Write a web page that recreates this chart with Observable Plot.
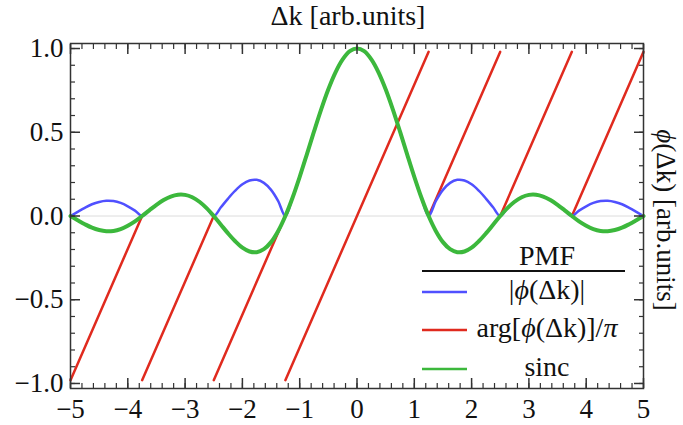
<!DOCTYPE html>
<html><head><meta charset="utf-8">
<script src="https://cdn.jsdelivr.net/npm/d3@7"></script>
<script src="https://cdn.jsdelivr.net/npm/@observablehq/plot@0.6"></script>
<style>body{margin:0;background:#fff} svg text{font-family:"Liberation Serif","Times New Roman",serif;}</style>
</head><body><div id="chart"></div>
<script>
// Δk sample positions
const sampleX = [-5,-4.875,-4.75,-4.625,-4.5,-4.375,-4.25,-4.125,
  -4,-3.875,-3.75,-3.625,-3.5,-3.375,-3.25,-3.125,
  -3,-2.875,-2.75,-2.625,-2.5,-2.375,-2.25,-2.125,
  -2,-1.875,-1.75,-1.625,-1.5,-1.375,-1.25,-1.125,
  -1,-0.875,-0.75,-0.625,-0.5,-0.375,-0.25,-0.125,
  0,0.125,0.25,0.375,0.5,0.625,0.75,0.875,
  1,1.125,1.25,1.375,1.5,1.625,1.75,1.875,
  2,2.125,2.25,2.375,2.5,2.625,2.75,2.875,
  3,3.125,3.25,3.375,3.5,3.625,3.75,3.875,
  4,4.125,4.25,4.375,4.5,4.625,4.75,4.875,5];
// sinc series
const sincY = [0,-0.025,-0.049,-0.070,-0.084,-0.091,-0.089,-0.078,-0.058,-0.032,
  0,0.034,0.067,0.095,0.116,0.127,0.126,0.112,0.085,0.047,
  0,-0.052,-0.104,-0.151,-0.189,-0.212,-0.216,-0.198,-0.156,-0.089,
  0,0.109,0.234,0.368,0.505,0.637,0.757,0.858,0.935,0.984,
  1,
  0.984,0.935,0.858,0.757,0.637,0.505,0.368,0.234,0.109,
  0,-0.089,-0.156,-0.198,-0.216,-0.212,-0.189,-0.151,-0.104,-0.052,
  0,0.047,0.085,0.112,0.126,0.127,0.116,0.095,0.067,0.034,
  0,-0.032,-0.058,-0.078,-0.089,-0.091,-0.084,-0.070,-0.049,-0.025,0];
// |phi(Δk)| series
const absY = [0,0.025,0.049,0.070,0.084,0.091,0.089,0.078,0.058,0.032,
  0,0.034,0.067,0.095,0.116,0.127,0.126,0.112,0.085,0.047,
  0,0.052,0.104,0.151,0.189,0.212,0.216,0.198,0.156,0.089,
  0,0.109,0.234,0.368,0.505,0.637,0.757,0.858,0.935,0.984,
  1,
  0.984,0.935,0.858,0.757,0.637,0.505,0.368,0.234,0.109,
  0,0.089,0.156,0.198,0.216,0.212,0.189,0.151,0.104,0.052,
  0,0.047,0.085,0.112,0.126,0.127,0.116,0.095,0.067,0.034,
  0,0.032,0.058,0.078,0.089,0.091,0.084,0.070,0.049,0.025,0];
// arg[phi(Δk)]/π series (wrapped segments)
const phaseX   = [-5,-3.75, -3.75,-2.5, -2.5,-1.25, -1.25,1.25, 1.25,2.5, 2.5,3.75, 3.75,5];
const phaseY   = [-0.98,0, -0.98,0, -0.98,0, -0.98,0.98, 0,0.98, 0,0.98, 0,0.98];
const phaseSeg = [0,0, 1,1, 2,2, 3,3, 4,4, 5,5, 6,6];

const xMajorTicks = [-5,-4,-3,-2,-1,0,1,2,3,4,5];
const xTickLabels = ["−5","−4","−3","−2","−1","0","1","2","3","4","5"];
const xMinorTicks = d3.range(-50, 51, 2).map(d => d / 10);
const yMajorTicks = [-1,-0.5,0,0.5,1];
const yTickLabels = ["−1.0","−0.5","0.0","0.5","1.0"];
const yMinorTicks = d3.range(-10, 11, 1).map(d => d / 10);

const seriesNames = ["|ϕ(Δk)|", "arg[ϕ(Δk)]/π", "sinc"];
const seriesColors = ["#5050ff", "#e02a1e", "#3cb83c"];

const axisColor = "#333";
const font = '"Liberation Serif","Times New Roman",serif';
const W = 683, H = 425, mL = 70, mR = 40, mT = 43, mB = 37;

const tickAxes = (anchorX, anchorY) => [
  Plot.axisX(xMajorTicks, {anchor: anchorX, tickSize: -10, tickFormat: () => "", label: null, stroke: axisColor, strokeWidth: 1.5}),
  Plot.axisX(xMinorTicks, {anchor: anchorX, tickSize: -5, tickFormat: () => "", label: null, stroke: axisColor, strokeWidth: 1.2}),
  Plot.axisY(yMajorTicks, {anchor: anchorY, tickSize: -10, tickFormat: () => "", label: null, stroke: axisColor, strokeWidth: 1.5}),
  Plot.axisY(yMinorTicks, {anchor: anchorY, tickSize: -5, tickFormat: () => "", label: null, stroke: axisColor, strokeWidth: 1.2})
];

const svg = Plot.plot({
  width: W, height: H,
  marginLeft: mL, marginRight: mR, marginTop: mT, marginBottom: mB,
  style: {fontFamily: font, fontSize: "27px", color: "#111", background: "#fff"},
  x: {domain: [-5, 5]},
  y: {domain: [-1.03, 1.03]},
  marks: [
    Plot.ruleY([0], {stroke: "#dcdcdc", strokeWidth: 1}),
    Plot.line(phaseX, {x: phaseX, y: phaseY, z: phaseSeg, stroke: seriesColors[1], strokeWidth: 2.5}),
    Plot.line(sampleX, {x: sampleX, y: absY, stroke: seriesColors[0], strokeWidth: 2.5, curve: "catmull-rom"}),
    Plot.line(sampleX, {x: sampleX, y: sincY, stroke: seriesColors[2], strokeWidth: 4, curve: "catmull-rom"}),
    ...tickAxes("bottom", "left"),
    ...tickAxes("top", "right"),
    Plot.axisX(xMajorTicks, {anchor: "bottom", tickSize: 0, tickPadding: 10, tickFormat: (d, i) => xTickLabels[i], label: null}),
    Plot.axisY(yMajorTicks, {anchor: "left", tickSize: 0, tickPadding: 7, tickFormat: (d, i) => yTickLabels[i], label: null}),
    Plot.frame({stroke: axisColor, strokeWidth: 1.5})
  ]
});

const s = d3.select(svg);
// top axis title
s.append("text").attr("x", 348).attr("y", 25).attr("text-anchor", "middle")
  .attr("font-size", 28).attr("fill", "#111").attr("font-family", font).text("Δk [arb.units]");
// right axis title
const rt = s.append("text").attr("transform", "translate(657,220) rotate(90)").attr("text-anchor", "middle")
  .attr("font-size", 27).attr("fill", "#111").attr("font-family", font);
rt.append("tspan").attr("font-style", "italic").text("ϕ");
rt.append("tspan").text("(Δk) [arb.units]");

// legend
const lg = s.append("g").attr("font-family", font).attr("font-size", 28).attr("fill", "#111");
lg.append("text").attr("x", 547).attr("y", 265).attr("text-anchor", "middle").text("PMF");
lg.append("line").attr("x1", 422).attr("x2", 625).attr("y1", 271).attr("y2", 271).attr("stroke", "#111").attr("stroke-width", 2);
const rowY = [292, 330, 369];
const parts = [
  [["|", false], ["ϕ", true], ["(Δk)|", false]],
  [["arg[", false], ["ϕ", true], ["(Δk)]/", false], ["π", true]],
  [["sinc", false]]
];
seriesNames.forEach((name, i) => {
  lg.append("line").attr("x1", 422).attr("x2", 467).attr("y1", rowY[i]).attr("y2", rowY[i])
    .attr("stroke", seriesColors[i]).attr("stroke-width", 2.5);
  const t = lg.append("text").attr("x", 547).attr("y", rowY[i] + 7).attr("text-anchor", "middle");
  parts[i].forEach(([str, it]) => { const sp = t.append("tspan").text(str); if (it) sp.attr("font-style", "italic"); });
});

document.getElementById("chart").appendChild(svg);
</script>
</body></html>
